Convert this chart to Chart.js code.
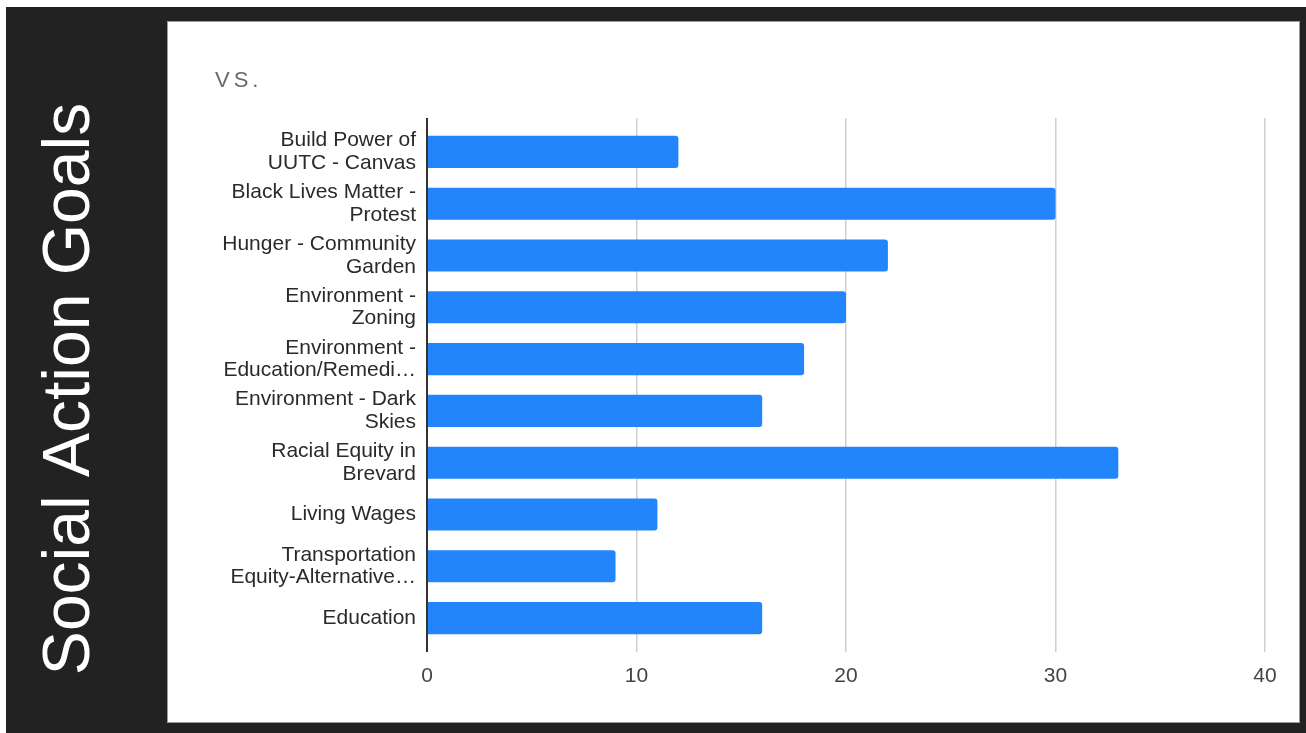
<!DOCTYPE html>
<html>
<head>
<meta charset="utf-8">
<script src="https://cdn.jsdelivr.net/npm/chart.js@4/dist/chart.umd.min.js"></script>
<style>
  html, body { margin: 0; padding: 0; background: #fff; overflow: hidden; }
  canvas { display: block; }
</style>
</head>
<body>
<canvas id="c" width="1306" height="733"></canvas>
<script>
const sideTitle = 'Social Action Goals';
const chartTitle = 'VS.';
const categories = [
  ['Build Power of', 'UUTC - Canvas'],
  ['Black Lives Matter -', 'Protest'],
  ['Hunger - Community', 'Garden'],
  ['Environment -', 'Zoning'],
  ['Environment -', 'Education/Remedi\u2026'],
  ['Environment - Dark', 'Skies'],
  ['Racial Equity in', 'Brevard'],
  'Living Wages',
  ['Transportation', 'Equity-Alternative\u2026'],
  'Education'
];
const values = [12, 30, 22, 20, 18, 16, 33, 11, 9, 16];
const xMin = 0, xMax = 40, xStep = 10;

const backdrop = {
  id: 'backdrop',
  beforeDraw(chart) {
    const ctx = chart.ctx;
    ctx.save();
    ctx.fillStyle = '#ffffff';
    ctx.fillRect(0, 0, 1306, 733);
    ctx.fillStyle = '#222222';
    ctx.fillRect(6, 7, 1300, 726);
    ctx.fillStyle = '#9a9a9a';
    ctx.fillRect(167, 21, 1133, 702);
    ctx.fillStyle = '#ffffff';
    ctx.fillRect(168, 22, 1131, 700);
    // side title
    ctx.translate(89, 389);
    ctx.rotate(-Math.PI / 2);
    ctx.font = '66px "Liberation Sans", Arial, sans-serif';
    ctx.fillStyle = '#ffffff';
    ctx.textAlign = 'center';
    ctx.textBaseline = 'alphabetic';
    ctx.fillText(sideTitle, 0, 0);
    ctx.restore();
    ctx.save();
    ctx.font = '22px "Liberation Sans", Arial, sans-serif';
    ctx.fillStyle = '#6a6a6a';
    ctx.textAlign = 'left';
    ctx.textBaseline = 'alphabetic';
    try { ctx.letterSpacing = '4px'; } catch (e) {}
    ctx.fillText(chartTitle, 215, 87);
    ctx.restore();
  }
};

const gridColor = c => (c.tick && c.tick.value === 0) ? '#333333' : '#cfcfcf';
const gridWidth = c => (c.tick && c.tick.value === 0) ? 2 : 1.5;

new Chart(document.getElementById('c'), {
  type: 'bar',
  data: {
    labels: categories,
    datasets: [{
      data: values,
      backgroundColor: '#2385fb',
      borderWidth: 0,
      borderRadius: 3,
      borderSkipped: 'start',
      barPercentage: 0.62,
      categoryPercentage: 1.0,
      xAxisID: 'x',
      yAxisID: 'y'
    }]
  },
  plugins: [backdrop],
  options: {
    indexAxis: 'y',
    responsive: false,
    animation: false,
    layout: { padding: { left: 168, right: 41, top: 118, bottom: 29 } },
    plugins: { legend: { display: false }, tooltip: { enabled: false }, title: { display: false } },
    scales: {
      x: {
        type: 'linear',
        position: 'bottom',
        min: xMin, max: xMax,
        ticks: {
          stepSize: xStep,
          padding: 12,
          color: '#444444',
          font: { family: '"Liberation Sans", Arial, sans-serif', size: 21 }
        },
        grid: { color: gridColor, lineWidth: gridWidth, tickLength: 8, drawTicks: true },
        border: { display: false },
        afterFit(scale) { scale.height = 60; }
      },
      x2: {
        type: 'linear',
        position: 'top',
        min: xMin, max: xMax,
        ticks: { stepSize: xStep, display: false },
        grid: { color: gridColor, lineWidth: gridWidth, tickLength: 8, drawTicks: true, drawOnChartArea: false },
        border: { display: false },
        afterFit(scale) { scale.height = 8; }
      },
      y: {
        type: 'category',
        position: 'left',
        grid: { display: false, drawTicks: false },
        border: { display: false },
        ticks: {
          padding: 11,
          color: '#2a2a2a',
          autoSkip: false,
          font: { family: '"Liberation Sans", Arial, sans-serif', size: 21, lineHeight: 1.08 }
        },
        afterFit(scale) { scale.width = 259; }
      }
    }
  }
});
</script>
</body>
</html>
